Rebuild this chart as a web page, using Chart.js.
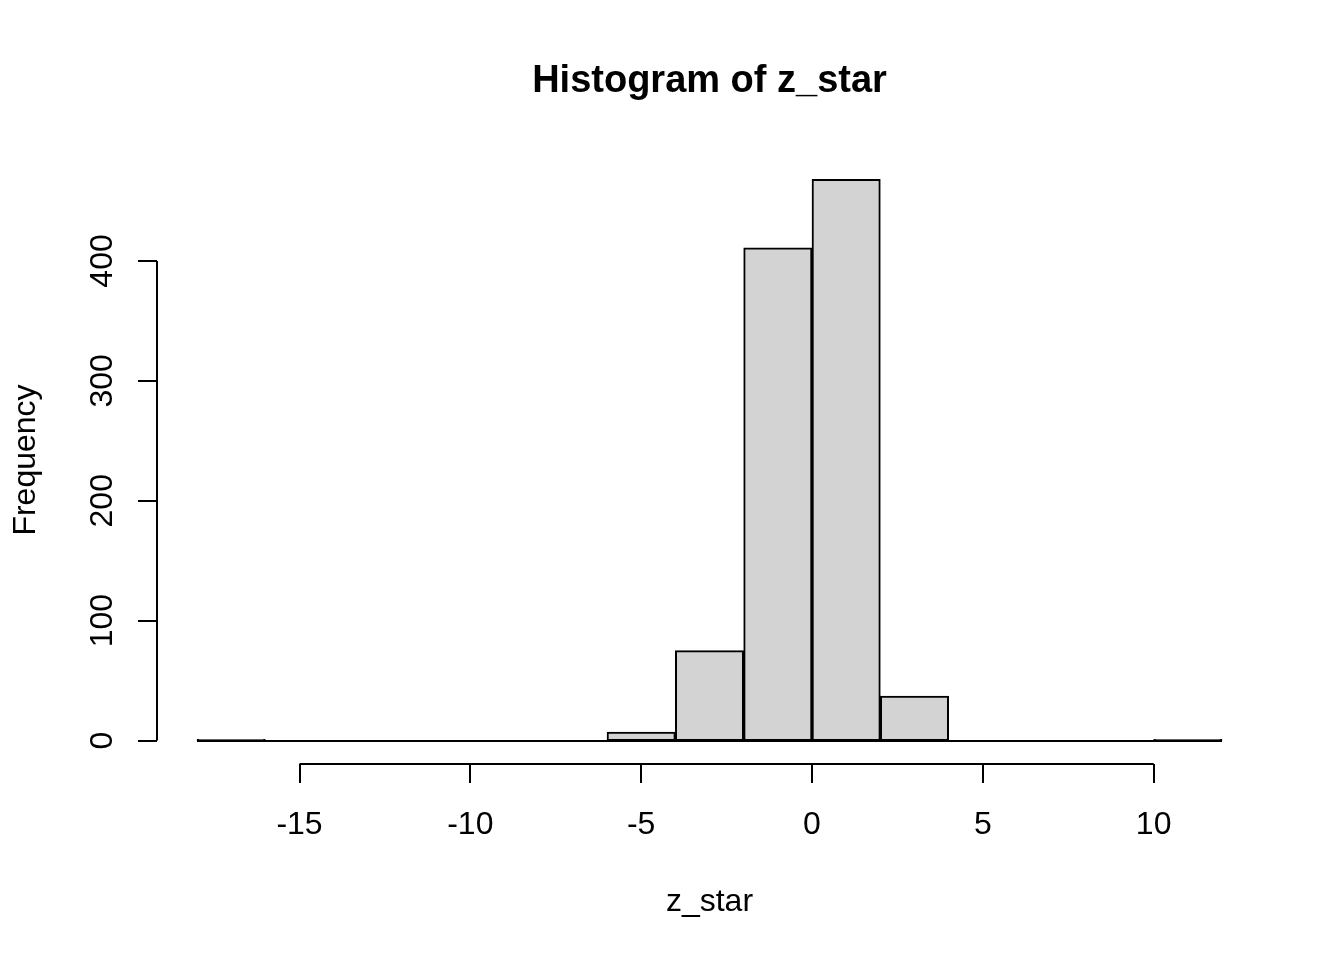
<!DOCTYPE html>
<html>
<head>
<meta charset="utf-8">
<title>Histogram of z_star</title>
<script src="https://cdn.jsdelivr.net/npm/chart.js@4.4.1/dist/chart.umd.min.js"></script>
<style>
  html, body { margin: 0; padding: 0; background: #ffffff; }
  #wrap { width: 1344px; height: 960px; }
</style>
</head>
<body>
<div id="wrap"><canvas id="hist" width="1344" height="960"></canvas></div>
<script>
// histogram bins (edges) and counts
const binEdges = [-18, -16, -14, -12, -10, -8, -6, -4, -2, 0, 2, 4, 6, 8, 10, 12];
const counts = [1, 0, 0, 0, 0, 0, 7, 75, 411, 468, 37, 0, 0, 0, 1];
const xTicks = [-15, -10, -5, 0, 5, 10];
const yTicks = [0, 100, 200, 300, 400];

const titleText = 'Histogram of z_star';
const xLabel = 'z_star';
const yLabel = 'Frequency';

const FONT = '"Liberation Sans", Arial, sans-serif';

// bars go at bin centres, one per bin
const barData = counts.map((c, i) => ({ x: (binEdges[i] + binEdges[i + 1]) / 2, y: c }));

// R style 4% padding on both axes
const xLo = binEdges[0], xHi = binEdges[binEdges.length - 1];
const xPad = (xHi - xLo) * 0.04;
const yHi = Math.max(...counts);
const yPad = yHi * 0.04;

const rAxes = {
  id: 'rAxes',
  afterDraw(chart) {
    const ctx = chart.ctx;
    const xs = chart.scales.x, ys = chart.scales.y;
    const area = chart.chartArea;
    ctx.save();
    ctx.strokeStyle = '#000';
    ctx.fillStyle = '#000';
    ctx.lineWidth = 2;
    ctx.lineCap = 'butt';

    // zero-height bins show as a line along 0
    const y0 = Math.round(ys.getPixelForValue(0));
    ctx.beginPath();
    ctx.moveTo(xs.getPixelForValue(xLo), y0);
    ctx.lineTo(xs.getPixelForValue(xHi), y0);
    ctx.stroke();

    // x axis
    const axY = area.bottom + 1;
    ctx.beginPath();
    ctx.moveTo(xs.getPixelForValue(xTicks[0]), axY);
    ctx.lineTo(xs.getPixelForValue(xTicks[xTicks.length - 1]), axY);
    xTicks.forEach(t => {
      const px = Math.round(xs.getPixelForValue(t));
      ctx.moveTo(px, axY);
      ctx.lineTo(px, axY + 19);
    });
    ctx.stroke();
    ctx.font = '32px ' + FONT;
    ctx.textAlign = 'center';
    ctx.textBaseline = 'alphabetic';
    xTicks.forEach(t => {
      ctx.fillText(String(t), xs.getPixelForValue(t), 834);
    });

    // y axis
    const axX = area.left + 1;
    ctx.beginPath();
    ctx.moveTo(axX, ys.getPixelForValue(yTicks[0]));
    ctx.lineTo(axX, ys.getPixelForValue(yTicks[yTicks.length - 1]));
    yTicks.forEach(t => {
      const py = Math.round(ys.getPixelForValue(t));
      ctx.moveTo(axX, py);
      ctx.lineTo(axX - 19, py);
    });
    ctx.stroke();
    yTicks.forEach(t => {
      ctx.save();
      ctx.translate(112, ys.getPixelForValue(t));
      ctx.rotate(-Math.PI / 2);
      ctx.fillText(String(t), 0, 0);
      ctx.restore();
    });

    // axis titles
    ctx.fillText(xLabel, (area.left + area.right) / 2, 911);
    ctx.save();
    ctx.translate(35, (area.top + area.bottom) / 2);
    ctx.rotate(-Math.PI / 2);
    ctx.fillText(yLabel, 0, 0);
    ctx.restore();

    // main title
    ctx.font = 'bold 38px ' + FONT;
    ctx.fillText(titleText, (area.left + area.right) / 2, 92);
    ctx.restore();
  }
};

new Chart(document.getElementById('hist'), {
  type: 'bar',
  data: {
    datasets: [{
      label: 'z_star',
      data: barData,
      backgroundColor: '#D3D3D3',
      borderColor: '#000000',
      borderWidth: 2,
      borderSkipped: false,
      barPercentage: 1.0,
      categoryPercentage: 1.0
    }]
  },
  options: {
    responsive: false,
    animation: false,
    devicePixelRatio: 1,
    layout: {
      padding: { left: 156, right: 81, top: 157, bottom: 197 }
    },
    plugins: {
      legend: { display: false },
      title: { display: false },
      tooltip: { enabled: false }
    },
    scales: {
      x: {
        type: 'linear',
        display: false,
        offset: false,
        min: xLo - xPad,
        max: xHi + xPad
      },
      y: {
        type: 'linear',
        display: false,
        min: -yPad,
        max: yHi + yPad
      }
    }
  },
  plugins: [rAxes]
});
</script>
</body>
</html>
